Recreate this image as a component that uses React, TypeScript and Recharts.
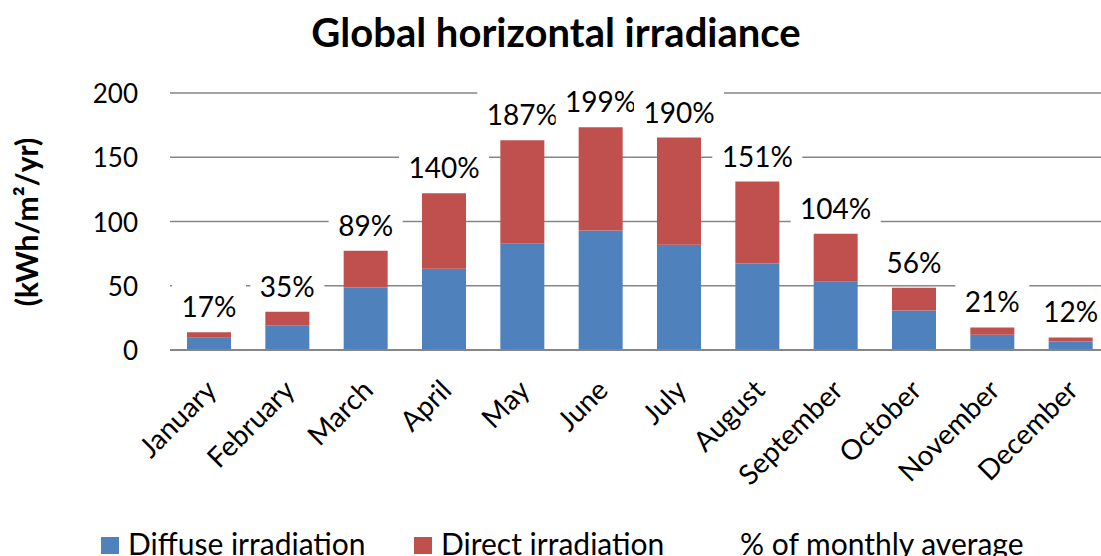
import { BarChart, Bar, XAxis, YAxis, CartesianGrid, LabelList } from 'recharts';

const months = ['January', 'February', 'March', 'April', 'May', 'June', 'July', 'August', 'September', 'October', 'November', 'December'];
const diffuse = [9.6, 19.2, 48.7, 63.2, 82.6, 93, 81.9, 67.4, 53.1, 30.8, 11.9, 6.7];
const direct = [4.2, 10.6, 28.5, 58.8, 80.6, 80.3, 83.4, 63.7, 37.3, 17.6, 5.7, 3.1];
const pctOfAverage = ['17%', '35%', '89%', '140%', '187%', '199%', '190%', '151%', '104%', '56%', '21%', '12%'];
const yTicks = [0, 50, 100, 150, 200];

const BLUE = '#4F81BD';
const RED = '#C0504D';
const GRID = '#868686';
const FONT = 'Lato, "Open Sans", sans-serif';

const data = months.map((m, i) => ({ month: m, diffuse: diffuse[i], direct: direct[i], pct: pctOfAverage[i] }));

// white boxed label sitting above the stacked total, like Excel's data labels
function PctLabel(props: any) {
  const { x, y, width, value } = props;
  const cx = x + width / 2;
  const w = String(value).length > 3 ? 90 : 74;
  return (
    <g>
      <rect x={cx - w / 2} y={y - 49} width={w} height={46} fill="#fff" />
      <text x={cx} y={y - 15} textAnchor="middle" fontSize={28} fontFamily={FONT} fill="#000">
        {value}
      </text>
    </g>
  );
}

function MonthTick(props: any) {
  const { x, y, payload } = props;
  const bx = x + 9;
  const by = y + 42;
  return (
    <text x={bx} y={by} transform={`rotate(-45 ${bx} ${by})`} textAnchor="end" fontSize={28} fontFamily={FONT} fill="#000">
      {payload.value}
    </text>
  );
}

function ValueTick(props: any) {
  const { x, y, payload } = props;
  return (
    <text x={x} y={y + 10} textAnchor="end" fontSize={26} fontFamily={FONT} fill="#000">
      {payload.value}
    </text>
  );
}

export default function App() {
  return (
    <div style={{ position: 'absolute', left: 0, top: 0, width: 1101, height: 556, overflow: 'hidden', background: '#fff' }}>
      <BarChart
        width={1120}
        height={556}
        data={data}
        margin={{ top: 93, right: 10, left: 0, bottom: 56 }}
        barSize={44}
      >
        <CartesianGrid vertical={false} stroke={GRID} strokeWidth={1.5} />
        <XAxis
          dataKey="month"
          height={150}
          interval={0}
          tickLine={false}
          tickSize={0}
          tickMargin={0}
          axisLine={{ stroke: GRID, strokeWidth: 2 }}
          tick={<MonthTick />}
        />
        <YAxis
          width={170}
          domain={[0, 200]}
          ticks={yTicks}
          axisLine={false}
          tickLine={false}
          tickSize={0}
          tickMargin={32}
          tick={<ValueTick />}
        />
        <Bar dataKey="diffuse" stackId="a" fill={BLUE} isAnimationActive={false} />
        <Bar dataKey="direct" stackId="a" fill={RED} isAnimationActive={false}>
          <LabelList dataKey="pct" content={<PctLabel />} />
        </Bar>
      </BarChart>
      <svg width={1101} height={556} style={{ position: 'absolute', left: 0, top: 0, pointerEvents: 'none' }}>
        <text x={556} y={47} textAnchor="middle" fontSize={40} fontWeight="bold" fontFamily={FONT} fill="#000">
          Global horizontal irradiance
        </text>
        <text x={38} y={222} transform="rotate(-90 38 222)" textAnchor="middle" fontSize={30} fontWeight="bold" fontFamily={FONT} fill="#000">
          (kWh/m²/yr)
        </text>
        <rect x={101} y={537} width={18} height={17} fill={BLUE} />
        <text x={128} y={555} fontSize={30} fontFamily={FONT} fill="#000">Diffuse irradiation</text>
        <rect x={414} y={537} width={18} height={17} fill={RED} />
        <text x={441} y={555} fontSize={30} fontFamily={FONT} fill="#000">Direct irradiation</text>
        <text x={740} y={555} fontSize={30} fontFamily={FONT} fill="#000">% of monthly average</text>
      </svg>
    </div>
  );
}
